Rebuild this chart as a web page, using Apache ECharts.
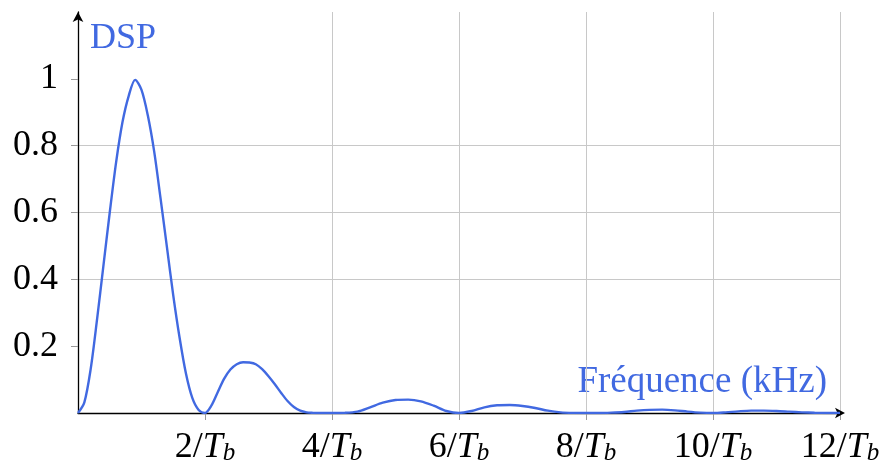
<!DOCTYPE html>
<html>
<head>
<meta charset="utf-8">
<script src="https://cdn.jsdelivr.net/npm/echarts@6/dist/echarts.min.js"></script>
<style>
  html, body { margin: 0; padding: 0; background: #fff; }
  #chart { width: 885px; height: 467px; }
</style>
</head>
<body>
<div id="chart"></div>
<script>
// Values (x in units of 1/Tb)
const freqX = [
  0, 0.1, 0.2, 0.3, 0.4, 0.5, 0.6, 0.7, 0.8, 0.9, 1.0,
  1.1, 1.2, 1.3, 1.4, 1.5, 1.6, 1.7, 1.8, 1.9, 2.0,
  2.1, 2.2, 2.3, 2.4, 2.5, 2.6, 2.7, 2.8, 2.9, 3.0,
  3.1, 3.2, 3.3, 3.4, 3.5, 3.6, 3.7, 3.8, 3.9, 4.0,
  4.2, 4.4, 4.6, 4.8, 5.0, 5.2, 5.4, 5.6, 5.8, 6.0,
  6.2, 6.4, 6.6, 6.8, 7.0, 7.2, 7.4, 7.6, 7.8, 8.0,
  8.2, 8.4, 8.6, 8.8, 9.0, 9.2, 9.4, 9.6, 9.8, 10.0,
  10.2, 10.4, 10.6, 10.8, 11.0, 11.2, 11.4, 11.6, 11.8, 12.0
];
const dspY = [
  0, 0.032, 0.132, 0.28, 0.44, 0.60, 0.75, 0.87, 0.95, 0.997, 0.967,
  0.89, 0.782, 0.642, 0.497, 0.352, 0.225, 0.118, 0.045, 0.009, 0,
  0.022, 0.062, 0.102, 0.130, 0.146, 0.152, 0.151, 0.146, 0.131, 0.11,
  0.086, 0.060, 0.036, 0.018, 0.007, 0.002, 0.0005, 0, 0, 0,
  0.0005, 0.004, 0.017, 0.031, 0.039, 0.040, 0.035, 0.022, 0.006, 0,
  0.006, 0.017, 0.023, 0.024, 0.021, 0.015, 0.007, 0.002, 0.0003, 0,
  0, 0.001, 0.003, 0.007, 0.0095, 0.010, 0.008, 0.004, 0.001, 0,
  0.002, 0.005, 0.007, 0.007, 0.006, 0.004, 0.002, 0.0008, 0.0002, 0
];
const xTickValues = [2, 4, 6, 8, 10, 12];
const yTickValues = [0.2, 0.4, 0.6, 0.8, 1];
const yAxisTitle = 'DSP';
const xAxisTitle = 'Fréquence (kHz)';

const FONT = '"Liberation Serif", "Times New Roman", serif';
const BLUE = '#4169E1';
const seriesData = freqX.map((x, i) => [x, dspY[i]]);

const chart = echarts.init(document.getElementById('chart'), null, { renderer: 'canvas' });
chart.setOption({
  animation: false,
  backgroundColor: '#fff',
  grid: { left: 78, right: 45, top: 12, bottom: 54, containLabel: false },
  xAxis: {
    type: 'value', min: 0, max: 12, interval: 2,
    axisLine: { show: true, lineStyle: { color: '#000', width: 1.3 },
      symbol: ['none', 'arrow'], symbolSize: [8, 10], symbolOffset: [0, 5] },
    axisTick: { show: true, length: 7, lineStyle: { color: '#999', width: 1 }, customValues: xTickValues },
    splitLine: { show: true, showMinLine: false, lineStyle: { color: '#c8c8c8', width: 1 } },
    axisLabel: {
      customValues: xTickValues,
      margin: 17,
      formatter: v => '{n|' + v + '/}{i|T}{s|b}',
      rich: {
        n: { fontFamily: FONT, fontSize: 36, color: '#000', lineHeight: 36 },
        i: { fontFamily: FONT, fontSize: 36, fontStyle: 'italic', color: '#000', lineHeight: 36 },
        s: { fontFamily: FONT, fontSize: 25, fontStyle: 'italic', color: '#000', lineHeight: 14, verticalAlign: 'bottom' }
      }
    }
  },
  yAxis: {
    type: 'value', min: 0, max: 1.2, interval: 0.2,
    axisLine: { show: true, lineStyle: { color: '#000', width: 1.3 },
      symbol: ['none', 'arrow'], symbolSize: [8, 10] },
    axisTick: { show: true, length: 7, lineStyle: { color: '#999', width: 1 }, customValues: yTickValues },
    splitLine: { show: true, showMinLine: false, showMaxLine: false, lineStyle: { color: '#c8c8c8', width: 1 } },
    axisLabel: {
      customValues: yTickValues,
      margin: 20,
      fontFamily: FONT, fontSize: 36, color: '#000',
      formatter: v => String(Math.round(v * 10) / 10)
    }
  },
  graphic: [
    { type: 'text', left: 90, top: 21,
      style: { text: yAxisTitle, font: '36px ' + FONT, fill: BLUE } },
    { type: 'text', right: 58, top: 364,
      style: { text: xAxisTitle, font: '37px ' + FONT, fill: BLUE } }
  ],
  series: [{
    type: 'line',
    data: seriesData,
    showSymbol: false,
    smooth: 0.3,
    lineStyle: { color: BLUE, width: 2.4 },
    itemStyle: { color: BLUE }
  }]
});
</script>
</body>
</html>
